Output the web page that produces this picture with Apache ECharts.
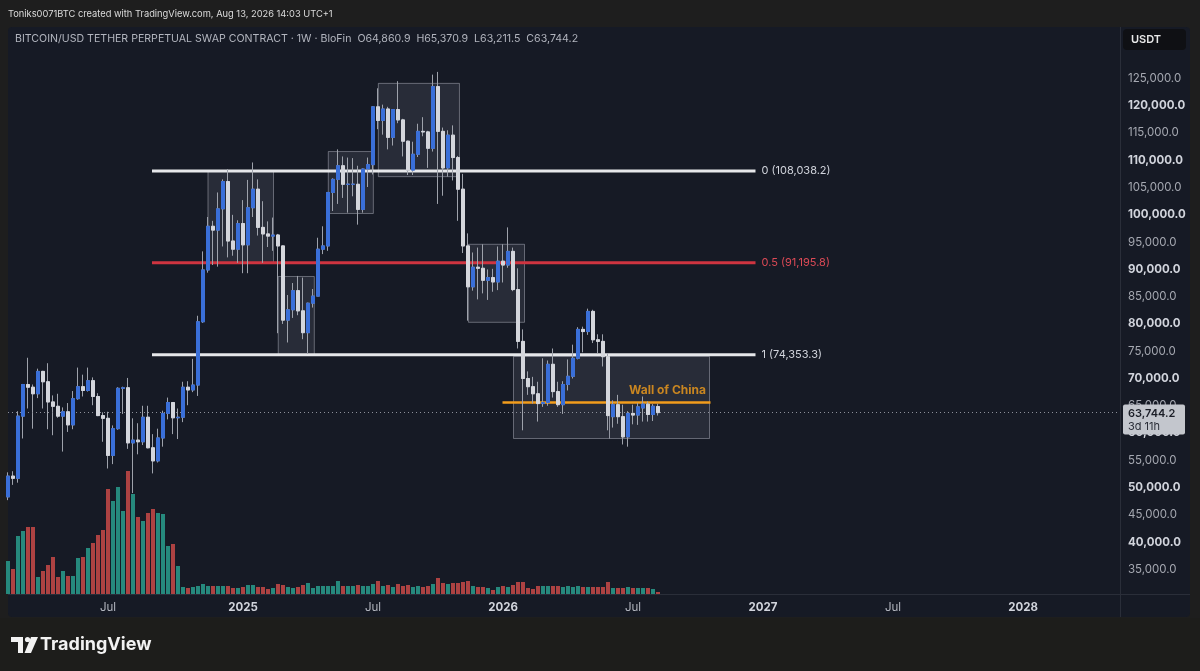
<!DOCTYPE html>
<html><head><meta charset="utf-8">
<script src="https://cdn.jsdelivr.net/npm/echarts@6/dist/echarts.min.js"></script>
<style>
html,body{margin:0;padding:0;background:#1e1e1e;width:1200px;height:671px;overflow:hidden}
#pane{position:absolute;left:8px;top:27px;width:1182px;height:590px;background:#161a25;border-radius:4px}
#vsep{position:absolute;left:1120px;top:27px;width:1px;height:590px;background:#2a2e39}
#hsep{position:absolute;left:8px;top:594px;width:1182px;height:1px;background:#2a2e39}
#bottom{position:absolute;left:0;top:618px;width:1200px;height:53px;background:#1d1d1b}
#chart{position:absolute;left:0;top:0;width:1200px;height:671px}
</style></head>
<body>
<div id="pane"></div><div id="vsep"></div><div id="hsep"></div><div id="bottom"></div>
<div id="chart"></div>
<script>
// ---------- DATA ----------
const firstWeek = [2024, 1, 12];   // Monday 12 Feb 2024 (UTC, month 0-based)
const weekCount = 223;             // weekly slots shown on the time axis (to May 2028)
const categories = [];
for (let i = 0; i < weekCount; i++) {
  const d = new Date(Date.UTC(firstWeek[0], firstWeek[1], firstWeek[2] + 7 * i));
  categories.push(d.toISOString().slice(0, 10));
}

// weekly candles, thousands of USDT: [open, high, low, close]
const ohlcK = [
 [48.3,52.8,47.7,52.1],[52.1,53.0,50.5,51.7],[51.7,64.0,50.9,63.1],[63.1,69.0,59.0,68.9],
 [68.9,73.8,64.5,68.4],[68.4,68.9,60.8,67.2],[67.2,71.8,66.4,71.3],[71.3,71.4,64.5,69.4],
 [69.4,72.8,60.7,65.7],[65.7,66.9,59.6,64.9],[64.9,67.2,62.8,63.1],[63.1,64.7,56.6,63.9],
 [63.9,65.5,60.2,61.5],[61.5,67.7,60.7,66.3],[66.3,72.0,66.1,68.5],[68.5,70.7,66.7,67.8],
 [67.8,72.0,67.6,69.6],[69.6,70.2,65.1,66.7],[66.7,67.3,63.1,63.2],[63.2,63.8,58.4,62.7],
 [62.7,63.9,53.5,55.9],[55.9,61.4,54.3,60.8],[60.8,68.4,60.6,68.2],[68.2,68.5,63.5,68.3],
 [68.3,70.1,57.1,58.2],[58.2,62.7,49.0,58.7],[58.7,61.8,56.1,58.4],[58.4,65.0,57.8,62.9],
 [62.9,65.0,57.2,57.3],[57.3,59.8,52.6,54.9],[54.9,60.8,54.6,59.1],[59.1,64.1,57.5,63.6],
 [63.6,66.5,62.5,65.6],[65.6,65.6,59.8,62.8],[62.8,64.5,58.9,62.9],[62.9,69.4,62.0,68.4],
 [68.4,69.5,65.1,67.9],[67.9,73.6,67.5,68.8],[68.8,81.5,66.8,80.4],[80.4,93.3,80.2,89.9],
 [89.9,99.6,89.4,97.9],[97.9,98.9,90.8,97.2],[97.2,104.1,90.5,101.1],[101.1,106.5,94.2,106.1],
 [106.1,108.4,92.2,95.2],[95.2,100.0,92.5,93.7],[93.7,99.0,91.2,98.4],[98.4,102.7,89.3,94.5],
 [94.5,106.4,89.3,101.3],[101.3,109.6,99.6,104.7],[104.7,106.5,96.2,97.7],[97.7,102.5,91.2,96.5],
 [96.5,98.8,94.1,96.1],[96.1,99.5,93.4,96.3],[96.3,96.5,78.3,94.3],[94.3,94.4,80.0,80.7],
 [80.7,85.3,76.6,82.6],[82.6,87.5,81.1,86.1],[86.1,88.8,81.6,82.4],[82.4,88.5,77.2,78.4],
 [78.4,83.9,74.5,83.8],[83.8,86.4,83.0,85.1],[85.1,95.8,85.1,93.7],[93.7,97.9,92.8,94.3],
 [94.3,104.1,93.4,104.1],[104.1,106.7,100.7,106.5],[106.5,112.0,102.0,109.0],[109.0,110.7,103.1,105.6],
 [105.6,110.5,100.4,105.6],[105.6,110.4,103.4,105.6],[105.6,109.0,98.2,101.0],[101.0,108.5,100.4,108.4],
 [108.4,110.5,105.1,109.2],[109.2,119.9,107.4,119.8],[119.8,123.2,115.7,117.3],[117.3,120.2,114.7,119.4],
 [119.4,119.8,112.0,114.2],[114.2,119.3,112.7,119.3],[119.3,124.5,116.8,117.4],[117.4,117.6,110.7,113.5],
 [113.5,113.6,107.3,108.2],[108.2,113.4,107.3,111.1],[111.1,116.7,110.6,115.3],[115.3,117.9,114.4,115.2],
 [115.2,115.4,108.6,112.2],[112.2,125.7,111.6,123.5],[123.5,126.2,102.0,115.3],[115.3,116.0,103.5,108.6],
 [108.6,115.5,107.0,114.6],[114.6,116.4,106.3,110.5],[110.5,110.8,98.9,104.7],[104.7,107.5,93.0,94.3],
 [94.3,96.6,80.6,86.8],[86.8,93.1,86.1,90.4],[90.4,94.0,84.5,90.2],[90.2,94.6,85.6,88.0],
 [88.0,90.0,84.4,88.5],[88.5,90.1,85.9,87.7],[87.7,94.2,86.2,91.5],[91.5,94.6,87.6,90.8],
 [90.8,97.7,90.3,93.3],[93.3,94.0,86.0,86.3],[86.3,90.2,75.5,76.8],[76.8,79.0,60.5,70.0],
 [70.0,71.3,67.0,68.5],[68.5,70.3,65.4,67.2],[67.2,69.4,62.1,65.4],[65.4,73.7,64.8,65.6],
 [65.6,73.3,65.0,72.6],[72.6,75.5,66.5,67.6],[67.6,69.4,64.8,65.2],[65.2,69.5,63.5,68.9],
 [68.9,73.5,67.8,70.4],[70.4,76.2,70.0,73.7],[73.7,79.4,73.5,79.0],[79.0,79.5,74.8,78.6],
 [78.6,82.8,78.0,82.3],[82.3,82.6,76.5,77.1],[77.1,78.1,74.6,76.8],[76.8,78.1,72.2,74.0],
 [74.0,74.6,60.5,63.2],[63.0,66.0,61.0,65.2],[65.2,67.0,61.7,63.0],[63.0,65.2,57.9,59.3],
 [59.3,64.0,57.5,63.6],[63.6,65.2,61.6,63.3],[63.3,65.5,61.5,64.8],[64.6,66.7,62.1,65.3],
 [65.3,65.8,62.1,63.4],[63.4,65.3,62.2,64.9],[64.8609,65.3709,63.2115,63.7442]
];

// weekly volume (relative units)
const volumes = [
 33,25,58,63,67,67,17,23,29,37, 17,23,18,18,36,37,46,51,59,64,
 105,93,107,83,123,100,77,73,81,85, 81,80,48,50,28,7,6,7,8,10,
 8,8,8,8,8,6,6,7,9,9, 7,7,5,6,10,9,7,6,7,9,
 11,6,8,8,8,8,13,8,8,8, 9,8,8,10,13,8,9,7,10,8,
 9,7,8,7,8,10,16,11,10,11, 11,12,13,8,7,7,6,4,7,8,
 7,9,12,12,6,5,8,8,8,8, 8,7,8,7,8,7,7,7,7,7,
 12,6,6,6,7,6,6,6,6,5, 2
];

// Fibonacci levels: [label, price, fromWeek, toWeek]
const fibLevels = [
  ['0 (108,038.2)', 108038.2, 28.8, 149.5],
  ['0.5 (91,195.8)', 91195.8, 28.8, 149.5],
  ['1 (74,353.3)', 74353.3, 28.8, 149.5]
];
// "Wall of China" level: [price, fromWeek, toWeek]
const wallOfChina = [65600, 98.9, 140.5];
// Range boxes: [fromWeek, toWeek, lowPrice, highPrice]
const boxes = [
  [40.0, 53.1, 91100, 108000],
  [54.05, 61.26, 74400, 88700],
  [64.06, 73.07, 100250, 111600],
  [74.07, 90.29, 107000, 124100],
  [92.09, 103.3, 80300, 94600],
  [101.1, 120.3, 59000, 74050],
  [120.3, 140.3, 59000, 74050]
];
const lastPrice = 63744.2;
const lastPriceLabel = ['63,744.2', '3d 11h'];
const yTickMin = 35000, yTickMax = 125000;

// ---------- STYLES ----------
const FONT = 'Inter, "Liberation Sans", sans-serif';
const upColor = '#3a6fd8', downColor = '#d4d6dc', wickColor = '#9ea2ab';
const volUp = '#26897d', volDown = '#ad4242';

const candles = ohlcK.map(r => [r[0]*1000, r[3]*1000, r[2]*1000, r[1]*1000]);
const bodies = ohlcK.map(r => [r[0]*1000, r[3]*1000, Math.min(r[0],r[3])*1000, Math.max(r[0],r[3])*1000]);
const volData = volumes.map((v, i) => ({
  value: v, itemStyle: { color: ohlcK[i][3] >= ohlcK[i][0] ? volUp : volDown }
}));

function isLabelWeek(i) {
  if (i === 0) return false;
  const m = categories[i].slice(5, 7), pm = categories[i - 1].slice(5, 7);
  return (m === '01' || m === '07') && m !== pm;
}

const fibColors = ['#e6e7ea', '#cf3440', '#e6e7ea'];
const fibLabelColors = ['#d1d4dc', '#dc4a56', '#d1d4dc'];

const series = [
  {
    type: 'bar', xAxisIndex: 2, yAxisIndex: 1, data: volData,
    barWidth: '80%', z: 1, silent: true
  },
  {
    type: 'custom', coordinateSystem: 'cartesian2d', xAxisIndex: 1, yAxisIndex: 0,
    data: boxes, encode: { x: [0, 1], y: [2, 3] }, z: 2, silent: true,
    renderItem: (params, api) => {
      const p1 = api.coord([api.value(0), api.value(3)]);
      const p2 = api.coord([api.value(1), api.value(2)]);
      return {
        type: 'rect',
        shape: { x: p1[0], y: p1[1], width: p2[0] - p1[0], height: p2[1] - p1[1] },
        style: { fill: 'rgba(205,210,222,0.10)', stroke: 'rgba(190,194,204,0.45)', lineWidth: 1 }
      };
    }
  }
];

fibLevels.forEach((f, k) => {
  series.push({
    type: 'line', xAxisIndex: 1, yAxisIndex: 0, z: 3, silent: true,
    data: [[f[2], f[1]], [f[3], f[1]]], symbol: 'none',
    lineStyle: { color: fibColors[k], width: 3 },
    endLabel: { show: true, formatter: f[0], color: fibLabelColors[k], fontSize: 11, fontFamily: FONT, distance: 6 }
  });
});

series.push({
  type: 'line', xAxisIndex: 1, yAxisIndex: 0, z: 3, silent: true,
  data: [[wallOfChina[1], wallOfChina[0]], [wallOfChina[2], wallOfChina[0]]], symbol: 'none',
  lineStyle: { color: '#f29d1c', width: 2.5 }
});
series.push({
  type: 'scatter', xAxisIndex: 1, yAxisIndex: 0, z: 6, silent: true,
  data: [[wallOfChina[2], wallOfChina[0]]], symbolSize: 1, itemStyle: { color: 'rgba(0,0,0,0)' },
  label: { show: true, formatter: 'Wall of China', position: 'left', distance: 4, offset: [0, -12],
           color: '#f29d1c', fontSize: 12, fontWeight: 'bold', fontFamily: FONT }
});

series.push({
  type: 'candlestick', xAxisIndex: 0, yAxisIndex: 0, data: candles, barWidth: 3.6, z: 4, silent: true,
  itemStyle: { color: 'rgba(0,0,0,0)', color0: 'rgba(0,0,0,0)', borderColor: wickColor, borderColor0: wickColor, borderWidth: 1 }
});
series.push({
  type: 'candlestick', xAxisIndex: 0, yAxisIndex: 0, data: bodies, barWidth: 3.6, z: 5, silent: true,
  itemStyle: { color: upColor, color0: downColor, borderColor: upColor, borderColor0: downColor, borderWidth: 1 },
  markLine: {
    silent: true, symbol: ['none', 'none'], animation: false,
    lineStyle: { color: '#8d909a', width: 1, type: [1, 3] },
    label: {
      show: true, position: 'end', distance: 5, offset: [0, 7],
      formatter: '{a|' + lastPriceLabel[0] + '}\n{b|' + lastPriceLabel[1] + '}',
      backgroundColor: '#c3c6cd', borderRadius: 2, padding: [3, 6, 2, 5], width: 51,
      rich: {
        a: { color: '#1b1e27', fontSize: 11, fontFamily: FONT, fontWeight: 600, lineHeight: 13 },
        b: { color: '#2b2e38', fontSize: 11, fontFamily: FONT, lineHeight: 12 }
      }
    },
    data: [{ yAxis: lastPrice }]
  }
});

const option = {
  animation: false,
  backgroundColor: 'transparent',
  grid: [
    { left: 8, width: 1110, top: 23.9, height: 572.8 },
    { left: 8, width: 1110, top: 464, height: 130 }
  ],
  xAxis: [
    {
      type: 'category', gridIndex: 0, data: categories, boundaryGap: false,
      axisLine: { show: false }, axisTick: { show: false }, splitLine: { show: false },
      axisLabel: {
        interval: (i) => isLabelWeek(i), margin: 5, hideOverlap: false,
        formatter: (v) => v.slice(5, 7) === '01' ? '{y|' + v.slice(0, 4) + '}' : '{m|Jul}',
        rich: {
          y: { color: '#d1d4dc', fontWeight: 'bold', fontSize: 11.5, fontFamily: FONT },
          m: { color: '#b2b5be', fontSize: 11.5, fontFamily: FONT }
        }
      }
    },
    { type: 'value', gridIndex: 0, min: 0, max: weekCount - 1, show: false },
    { type: 'category', gridIndex: 1, data: categories, boundaryGap: false, show: false }
  ],
  yAxis: [
    {
      type: 'value', gridIndex: 0, position: 'right', min: 30000, max: 135000, interval: 5000,
      axisLine: { show: false }, axisTick: { show: false }, splitLine: { show: false },
      axisLabel: {
        margin: 10, align: 'left',
        formatter: (v) => {
          if (v < yTickMin || v > yTickMax) return '';
          const s = v.toLocaleString('en-US') + '.0';
          return v % 10000 === 0 ? '{b|' + s + '}' : '{n|' + s + '}';
        },
        rich: {
          b: { color: '#d1d4dc', fontWeight: 'bold', fontSize: 11.5, fontFamily: FONT },
          n: { color: '#a5a8b1', fontSize: 11.5, fontFamily: FONT }
        }
      }
    },
    { type: 'value', gridIndex: 1, min: 0, max: 130, show: false }
  ],
  graphic: [
    { type: 'text', x: 8, y: 14, silent: true,
      style: { text: 'Toniks0071BTC created with TradingView.com, Aug 13, 2026 14:03 UTC+1',
               fill: '#dcdcdc', font: '9.3px ' + FONT, verticalAlign: 'middle' } },
    { type: 'text', x: 15, y: 39, silent: true,
      style: { text: 'BITCOIN/USD TETHER PERPETUAL SWAP CONTRACT · 1W · BloFin  O64,860.9  H65,370.9  L63,211.5  C63,744.2',
               fill: '#b2b5be', font: '10.6px ' + FONT, verticalAlign: 'middle' } },
    { type: 'rect', silent: true, shape: { x: 1123, y: 29, width: 63, height: 21, r: 4 },
      style: { fill: '#0f1014' } },
    { type: 'text', x: 1131, y: 39.5, silent: true,
      style: { text: 'USDT', fill: '#e8e8e8', font: '600 11px ' + FONT, verticalAlign: 'middle' } },
    // TradingView logo
    { type: 'polygon', silent: true, shape: { points: [[11,637],[23,637],[23,653],[18,653],[18,642],[11,642]] }, style: { fill: '#f2f2f2' } },
    { type: 'circle', silent: true, shape: { cx: 27.5, cy: 639.5, r: 2.6 }, style: { fill: '#f2f2f2' } },
    { type: 'polygon', silent: true, shape: { points: [[31,637],[38,637],[31,653],[24.5,653]] }, style: { fill: '#f2f2f2' } },
    { type: 'text', x: 40, y: 645, silent: true,
      style: { text: 'TradingView', fill: '#f2f2f2', font: 'bold 18px ' + FONT, verticalAlign: 'middle' } }
  ],
  series: series
};

const chart = echarts.init(document.getElementById('chart'), null, { renderer: 'canvas', width: 1200, height: 671 });
chart.setOption(option);
</script>
</body></html>
